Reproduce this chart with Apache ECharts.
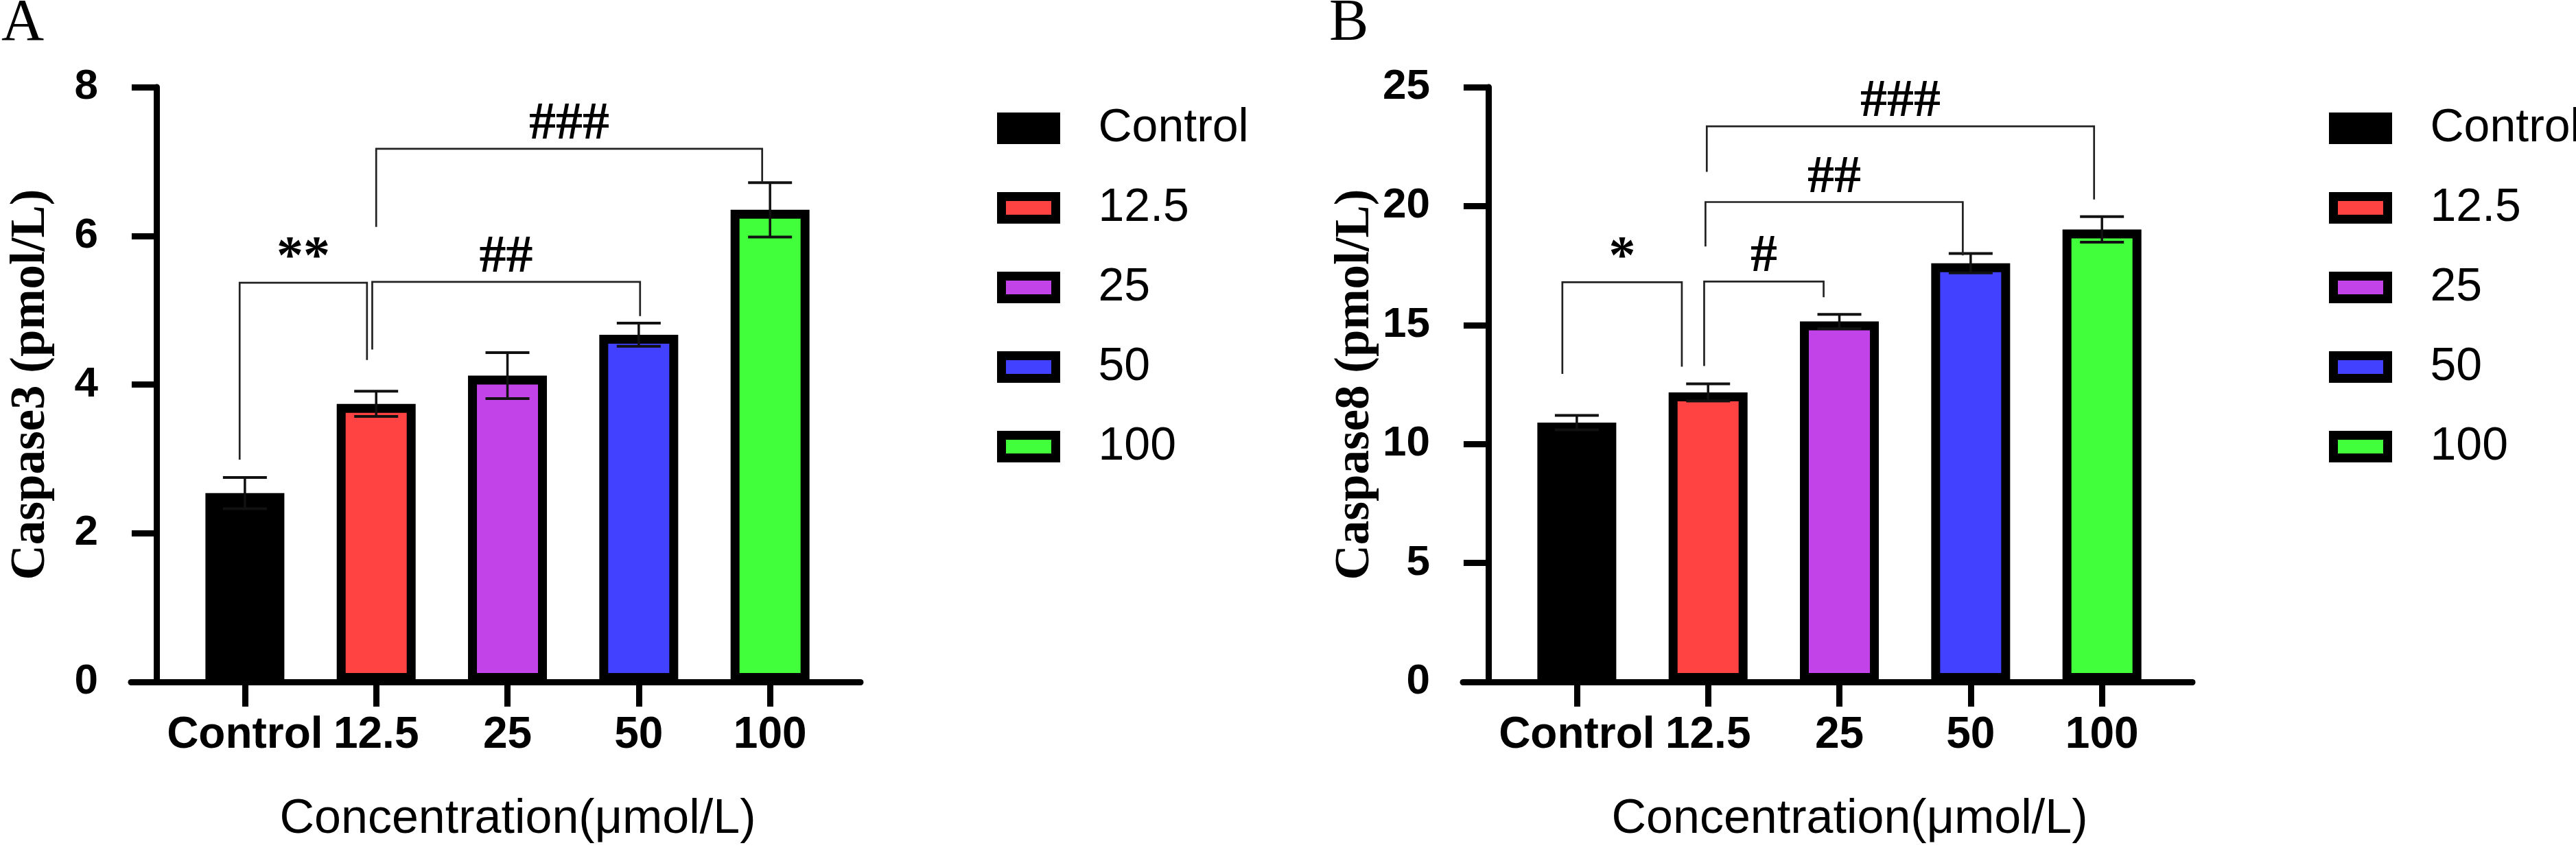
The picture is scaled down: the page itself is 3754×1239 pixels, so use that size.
<!DOCTYPE html>
<html lang="en">
<head>
    <meta charset="UTF-8">
    <title>Caspase3 / Caspase8</title>
    <script src="https://cdn.jsdelivr.net/npm/echarts@6/dist/echarts.min.js"></script>
    <style>
        html, body { margin: 0; padding: 0; background: #fff; }
        #main { width: 3754px; height: 1239px; }
    </style>
</head>
<body>
<div id="main"></div>
<script>
    // groups
    var categories = ['Control', '12.5', '25', '50', '100'];
    var barColors = ['#000000', '#FF4242', '#C243E7', '#4141FF', '#42FF3B'];

    // panel A : Caspase3 (pmol/L)
    var casp3Mean = [2.54, 3.74, 4.12, 4.67, 6.35];
    var casp3Err = [0.21, 0.17, 0.31, 0.155, 0.365];
    // brackets: [from, to, top, left leg end, right leg end] (category index / y value)
    var casp3Brackets = [
        [-0.04, 0.93, 5.37, 2.99, 4.33],
        [0.97, 3.01, 5.38, 4.47, 4.92],
        [1.0, 3.94, 7.17, 6.12, 6.72]
    ];
    var casp3Marks = ['**', '##', '###'];

    // panel B : Caspase8 (pmol/L)
    var casp8Mean = [10.9, 12.17, 15.15, 17.6, 19.02];
    var casp8Err = [0.3, 0.36, 0.30, 0.41, 0.54];
    var casp8Brackets = [
        [-0.11, 0.80, 16.8, 12.95, 13.25],
        [0.97, 1.88, 16.83, 13.28, 16.17],
        [0.98, 2.94, 20.17, 18.3, 17.93],
        [0.99, 3.94, 23.35, 21.44, 20.28]
    ];
    var casp8Marks = ['*', '#', '##', '###'];

    var CAT_OFFSET = 0.674;   // first bar centre, in bar spacings from the y axis
    var SANS = 'Liberation Sans';
    var SERIF = 'Liberation Serif';

    var chart = echarts.init(document.getElementById('main'));

    function panelAxes(idx, left, yMax, yStep, yName) {
        var ticks = categories.map(function (c, i) { return i + CAT_OFFSET; });
        var x = {
            type: 'value', gridIndex: idx, min: -0.193, max: 5.363,
            splitLine: {show: false},
            axisLine: {show: true, onZero: true, lineStyle: {color: '#000', width: 9}},
            axisTick: {show: true, customValues: ticks, length: 36, lineStyle: {color: '#000', width: 9}},
            axisLabel: {
                show: true, customValues: ticks, margin: 46,
                color: '#000', fontFamily: SANS, fontWeight: 'bold', fontSize: 64,
                formatter: function (v) { return categories[Math.round(v - CAT_OFFSET)]; }
            },
            name: 'Concentration(\u03bcmol/L)', nameLocation: 'middle', nameGap: 166,
            nameTextStyle: {color: '#000', fontFamily: SANS, fontSize: 70, padding: [0, 0, 0, 64]}
        };
        var y = {
            type: 'value', gridIndex: idx, min: 0, max: yMax, interval: yStep,
            splitLine: {show: false},
            axisLine: {show: true, onZero: true, lineStyle: {color: '#000', width: 9}},
            axisTick: {show: true, length: 36, lineStyle: {color: '#000', width: 9}},
            axisLabel: {margin: 48, color: '#000', fontFamily: SANS, fontWeight: 'bold', fontSize: 62},
            name: yName, nameLocation: 'middle', nameGap: 110,
            nameTextStyle: {color: '#000', fontFamily: SERIF, fontWeight: 'bold', fontSize: 71}
        };
        return {x: x, y: y, grid: {left: left, top: 127, width: 1063, height: 867}};
    }

    function barSeries(idx, means) {
        return categories.map(function (c, i) {
            return {
                name: c, type: 'bar', xAxisIndex: idx, yAxisIndex: idx,
                barWidth: 115, barGap: '-100%',
                itemStyle: {color: barColors[i], borderColor: '#000', borderWidth: 13},
                data: [[i + CAT_OFFSET, means[i]]],
                z: 2
            };
        });
    }

    function errorSeries(idx, means, errs) {
        return {
            type: 'custom', xAxisIndex: idx, yAxisIndex: idx, z: 5, silent: true,
            data: means.map(function (m, i) { return [i + CAT_OFFSET, m, errs[i]]; }),
            encode: {x: 0, y: 1},
            renderItem: function (params, api) {
                var x = api.value(0), m = api.value(1), e = api.value(2);
                var hi = api.coord([x, m + e]), lo = api.coord([x, m - e]);
                var st = {stroke: '#111', lineWidth: 4};
                return {
                    type: 'group', children: [
                        {type: 'line', shape: {x1: hi[0], y1: hi[1], x2: lo[0], y2: lo[1]}, style: {stroke: '#111', lineWidth: 3.5}},
                        {type: 'line', shape: {x1: hi[0] - 32, y1: hi[1], x2: hi[0] + 32, y2: hi[1]}, style: st},
                        {type: 'line', shape: {x1: lo[0] - 32, y1: lo[1], x2: lo[0] + 32, y2: lo[1]}, style: st}
                    ]
                };
            }
        };
    }

    function bracketSeries(idx, brackets, marks) {
        return {
            type: 'custom', xAxisIndex: idx, yAxisIndex: idx, z: 6, silent: true,
            data: brackets.map(function (b) {
                return [b[0] + CAT_OFFSET, b[1] + CAT_OFFSET, b[2], b[3], b[4]];
            }),
            encode: {x: [0, 1], y: [2, 3, 4]},
            renderItem: function (params, api) {
                var x1 = api.value(0), x2 = api.value(1), top = api.value(2);
                var p1 = api.coord([x1, api.value(3)]), p2 = api.coord([x1, top]);
                var p3 = api.coord([x2, top]), p4 = api.coord([x2, api.value(4)]);
                return {
                    type: 'group', children: [
                        {type: 'polyline', shape: {points: [p1, p2, p3, p4]},
                            style: {stroke: '#222', lineWidth: 2.7, fill: null}},
                        {type: 'text', style: {
                            text: marks[params.dataIndex], x: (p2[0] + p3[0]) / 2, y: p2[1] + 4,
                            align: 'center', verticalAlign: 'bottom',
                            fill: '#000', font: 'bold 78px "' + SERIF + '"'
                        }}
                    ]
                };
            }
        };
    }

    function legendFor(left) {
        return {
            orient: 'vertical', left: left, top: 153, padding: 0,
            itemWidth: 79, itemHeight: 33, itemGap: 48,
            icon: 'rect',
            itemStyle: {borderColor: '#000', borderWidth: 13},
            textStyle: {color: '#000', fontFamily: SANS, fontSize: 68, lineHeight: 68, padding: [0, 0, 0, 57]},
            data: categories.map(function (c) { return {name: c}; })
        };
    }

    var a = panelAxes(0, 191, 8, 2, 'Caspase3 (pmol/L)');
    var b = panelAxes(1, 2132, 25, 5, 'Caspase8 (pmol/L)');

    var option = {
        animation: false,
        backgroundColor: '#fff',
        title: [
            {text: 'A', left: 2, top: -8, padding: 0, textStyle: {fontFamily: SERIF, fontWeight: 'normal', fontSize: 86, color: '#000'}},
            {text: 'B', left: 1937, top: -8, padding: 0, textStyle: {fontFamily: SERIF, fontWeight: 'normal', fontSize: 86, color: '#000'}}
        ],
        legend: [legendFor(1453), legendFor(3394)],
        grid: [a.grid, b.grid],
        xAxis: [a.x, b.x],
        yAxis: [a.y, b.y],
        series: barSeries(0, casp3Mean).concat(barSeries(1, casp8Mean), [
            errorSeries(0, casp3Mean, casp3Err),
            errorSeries(1, casp8Mean, casp8Err),
            bracketSeries(0, casp3Brackets, casp3Marks),
            bracketSeries(1, casp8Brackets, casp8Marks)
        ])
    };
    chart.setOption(option);
</script>
</body>
</html>
